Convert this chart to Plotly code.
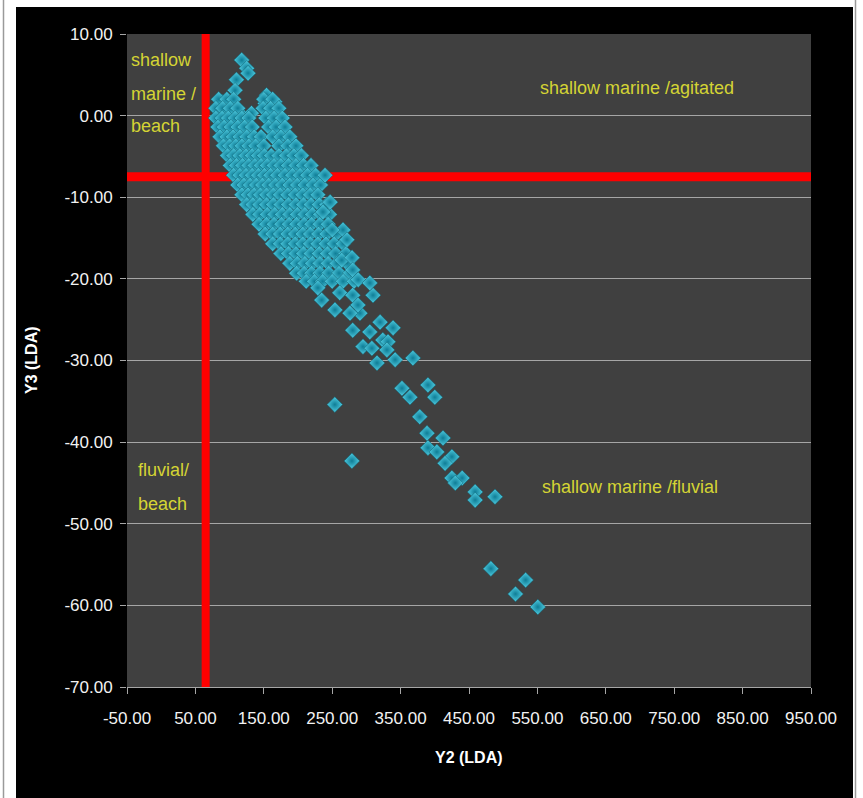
import plotly.graph_objects as go

# ---------------- data ----------------
top_x = [117.7, 125, 127, 110, 108, 88.5, 154, 166, 152, 115, 132, 86, 161.5]
top_y = [6.8, 5.8, 5.2, 4.4, 3.1, 1.7, 2.5, 1.7, 1.5, 0.3, 0.3, 0.5, 0.5]

cluster_row_y = [2.0, 0.9, -0.3, -1.4, -2.6, -3.7, -4.9, -6.1, -7.3, -8.5,
                 -9.7, -10.9, -12.1, -13.3, -14.5, -15.7, -16.9, -18.1, -19.3, -20.3]
cluster_row_x = [
    [84, 96, 106, 150, 163],
    [80, 90, 101, 112, 149, 160, 172],
    [80, 89, 98, 108, 118, 128, 153, 165, 177],
    [83, 92, 102, 112, 122, 133, 157, 168, 181],
    [86, 96, 105, 115, 125, 136, 146, 163, 175, 188],
    [91, 100, 109, 118, 128, 138, 150, 172, 185, 197],
    [97, 106, 115, 124, 133, 142, 151, 161, 172, 183, 194, 205],
    [101, 110, 119, 128, 137, 146, 155, 165, 175, 186, 197, 208, 219],
    [106, 115, 124, 133, 142, 151, 160, 170, 181, 192, 203, 214, 226],
    [112, 121, 130, 139, 148, 157, 167, 177, 188, 199, 210, 222, 233],
    [118, 127, 136, 145, 154, 164, 174, 185, 196, 207, 218, 229],
    [125, 134, 144, 154, 164, 175, 186, 197, 208, 219, 231, 242],
    [134, 144, 155, 166, 177, 188, 199, 210, 221, 233, 246],
    [143, 154, 165, 176, 187, 198, 209, 220, 232, 244],
    [152, 163, 174, 185, 196, 207, 218, 230, 242, 256],
    [163, 174, 185, 196, 207, 218, 229, 241, 253, 266],
    [175, 186, 197, 208, 219, 231, 243, 255, 270],
    [188, 199, 210, 221, 232, 244, 257, 272],
    [198, 209, 220, 232, 245, 260, 276],
    [212, 224, 236, 250, 266, 282],
]

edge_x = [265.8, 271.6, 264, 279, 280, 288, 247, 236.5, 250, 239.5]
edge_y = [-14.0, -15.2, -17.7, -17.4, -18.9, -20.1, -10.6, -11.8, -14.0, -7.3]

tail_x = [234.6, 254, 229, 261, 280, 290.6, 276, 287.7, 309.7, 305, 280, 320, 305, 339,
          324, 331.6, 295, 308, 330, 315.5, 342, 368, 352, 363.7, 390, 400, 378, 388.6,
          412, 390, 403, 425, 415, 425, 440, 430, 459, 459, 488,
          482, 532.8, 518, 550.6, 253.8, 278.8]
tail_y = [-22.6, -23.8, -21.1, -21.7, -22.0, -24.2, -24.2, -23.2, -22.0, -20.5, -26.3, -25.3,
          -26.5, -26.0, -27.5, -27.7, -28.3, -28.5, -28.7, -30.3, -29.9, -29.7, -33.4, -34.5,
          -33.0, -34.5, -36.9, -38.9, -39.5, -40.7, -41.2, -41.8, -42.6, -44.4, -44.4, -45.0,
          -46.1, -47.1, -46.7,
          -55.5, -56.9, -58.6, -60.2, -35.4, -42.3]

vline_x = 65.0     # Y2 boundary
hline_y = -7.5     # Y3 boundary

x_range = [-50, 950]
y_range = [-70, 10]
x_ticks = [-50, 50, 150, 250, 350, 450, 550, 650, 750, 850, 950]
y_ticks = [10, 0, -10, -20, -30, -40, -50, -60, -70]

# ---------------- assemble points ----------------
xs, ys = [], []
xs += top_x; ys += top_y
for yv, row in zip(cluster_row_y, cluster_row_x):
    xs += row
    ys += [yv] * len(row)
xs += edge_x; ys += edge_y
xs += tail_x; ys += tail_y

W, H = 863, 798
L, R, T, B = 127, 52, 34, 111
pw, ph = W - L - R, H - T - B


def px(p):   # page pixel -> paper x
    return (p - L) / pw


def py(p):   # page pixel -> paper y
    return (H - B - p) / ph


FONT = "Liberation Sans, Arial, sans-serif"

fig = go.Figure()

# red boundary lines
fig.add_trace(go.Scatter(x=[vline_x, vline_x], y=y_range, mode="lines",
                         line=dict(color="#ff0000", width=8), hoverinfo="skip",
                         showlegend=False))
fig.add_trace(go.Scatter(x=x_range, y=[hline_y, hline_y], mode="lines",
                         line=dict(color="#ff0000", width=9), hoverinfo="skip",
                         showlegend=False))

fig.add_trace(go.Scatter(
    x=xs, y=ys, mode="markers", showlegend=False,
    marker=dict(symbol="diamond", size=12, color="#4fcbe0",
                gradient=dict(type="radial", color="#0f7d96"),
                line=dict(color="#0b5a6b", width=0.5)),
))

ann_font = dict(family=FONT, size=18, color="#d4d434")
annotations = []


def add_text(text, xpix, ypix):
    annotations.append(dict(text=text, x=px(xpix), y=py(ypix), xref="paper", yref="paper",
                            xanchor="left", yanchor="middle", showarrow=False, font=ann_font))


add_text("shallow", 129, 60)
add_text("marine /", 129, 94)
add_text("beach", 129, 126)
add_text("shallow marine /agitated", 538, 88)
add_text("fluvial/", 136, 470)
add_text("beach", 136, 504)
add_text("shallow marine /fluvial", 540, 487)

annotations.append(dict(text="<b>Y2 (LDA)</b>", x=0.5, y=py(757), xref="paper", yref="paper",
                        xanchor="center", yanchor="middle", showarrow=False,
                        font=dict(family=FONT, size=16, color="#ffffff")))
annotations.append(dict(text="<b>Y3 (LDA)</b>", x=px(31), y=py(360), xref="paper", yref="paper",
                        xanchor="center", yanchor="middle", showarrow=False, textangle=-90,
                        font=dict(family=FONT, size=16, color="#ffffff")))

shapes = [
    # white page margins outside the black chart area
    dict(type="rect", xref="paper", yref="paper", x0=px(-5), x1=px(16), y0=py(H + 5), y1=py(-5),
         fillcolor="#ffffff", line=dict(width=0)),
    dict(type="rect", xref="paper", yref="paper", x0=px(-5), x1=px(W + 5), y0=py(7), y1=py(-5),
         fillcolor="#ffffff", line=dict(width=0)),
    dict(type="rect", xref="paper", yref="paper", x0=px(853), x1=px(W + 5), y0=py(H + 5), y1=py(-5),
         fillcolor="#ffffff", line=dict(width=0)),
    dict(type="line", xref="paper", yref="paper", x0=px(3.5), x1=px(3.5), y0=py(H + 5), y1=py(-5),
         line=dict(color="#9a9a9a", width=1.5)),
    dict(type="line", xref="paper", yref="paper", x0=px(855.5), x1=px(855.5), y0=py(H + 5), y1=py(-5),
         line=dict(color="#9a9a9a", width=1.5)),
]

tick_font = dict(family=FONT, size=17, color="#f2f2f2")

fig.update_layout(
    width=W, height=H,
    margin=dict(l=L, r=R, t=T, b=B, pad=0),
    paper_bgcolor="#000000",
    plot_bgcolor="#404040",
    annotations=annotations,
    shapes=shapes,
    xaxis=dict(range=x_range, tickvals=x_ticks, ticktext=[f"{v:.2f}" for v in x_ticks],
               showgrid=False, zeroline=False, showline=True, linecolor="#a6a6a6", linewidth=1,
               ticks="outside", ticklen=6, tickcolor="#a6a6a6", tickfont=tick_font,
               ticklabelstandoff=10, fixedrange=True),
    yaxis=dict(range=y_range, tickvals=y_ticks, ticktext=[f"{v:.2f}" for v in y_ticks],
               showgrid=True, gridcolor="#a6a6a6", gridwidth=1, zeroline=False, showline=False,
               ticks="outside", ticklen=6, tickcolor="#a6a6a6", tickfont=tick_font,
               ticklabelstandoff=4, fixedrange=True),
)

fig.write_html("out.html")
